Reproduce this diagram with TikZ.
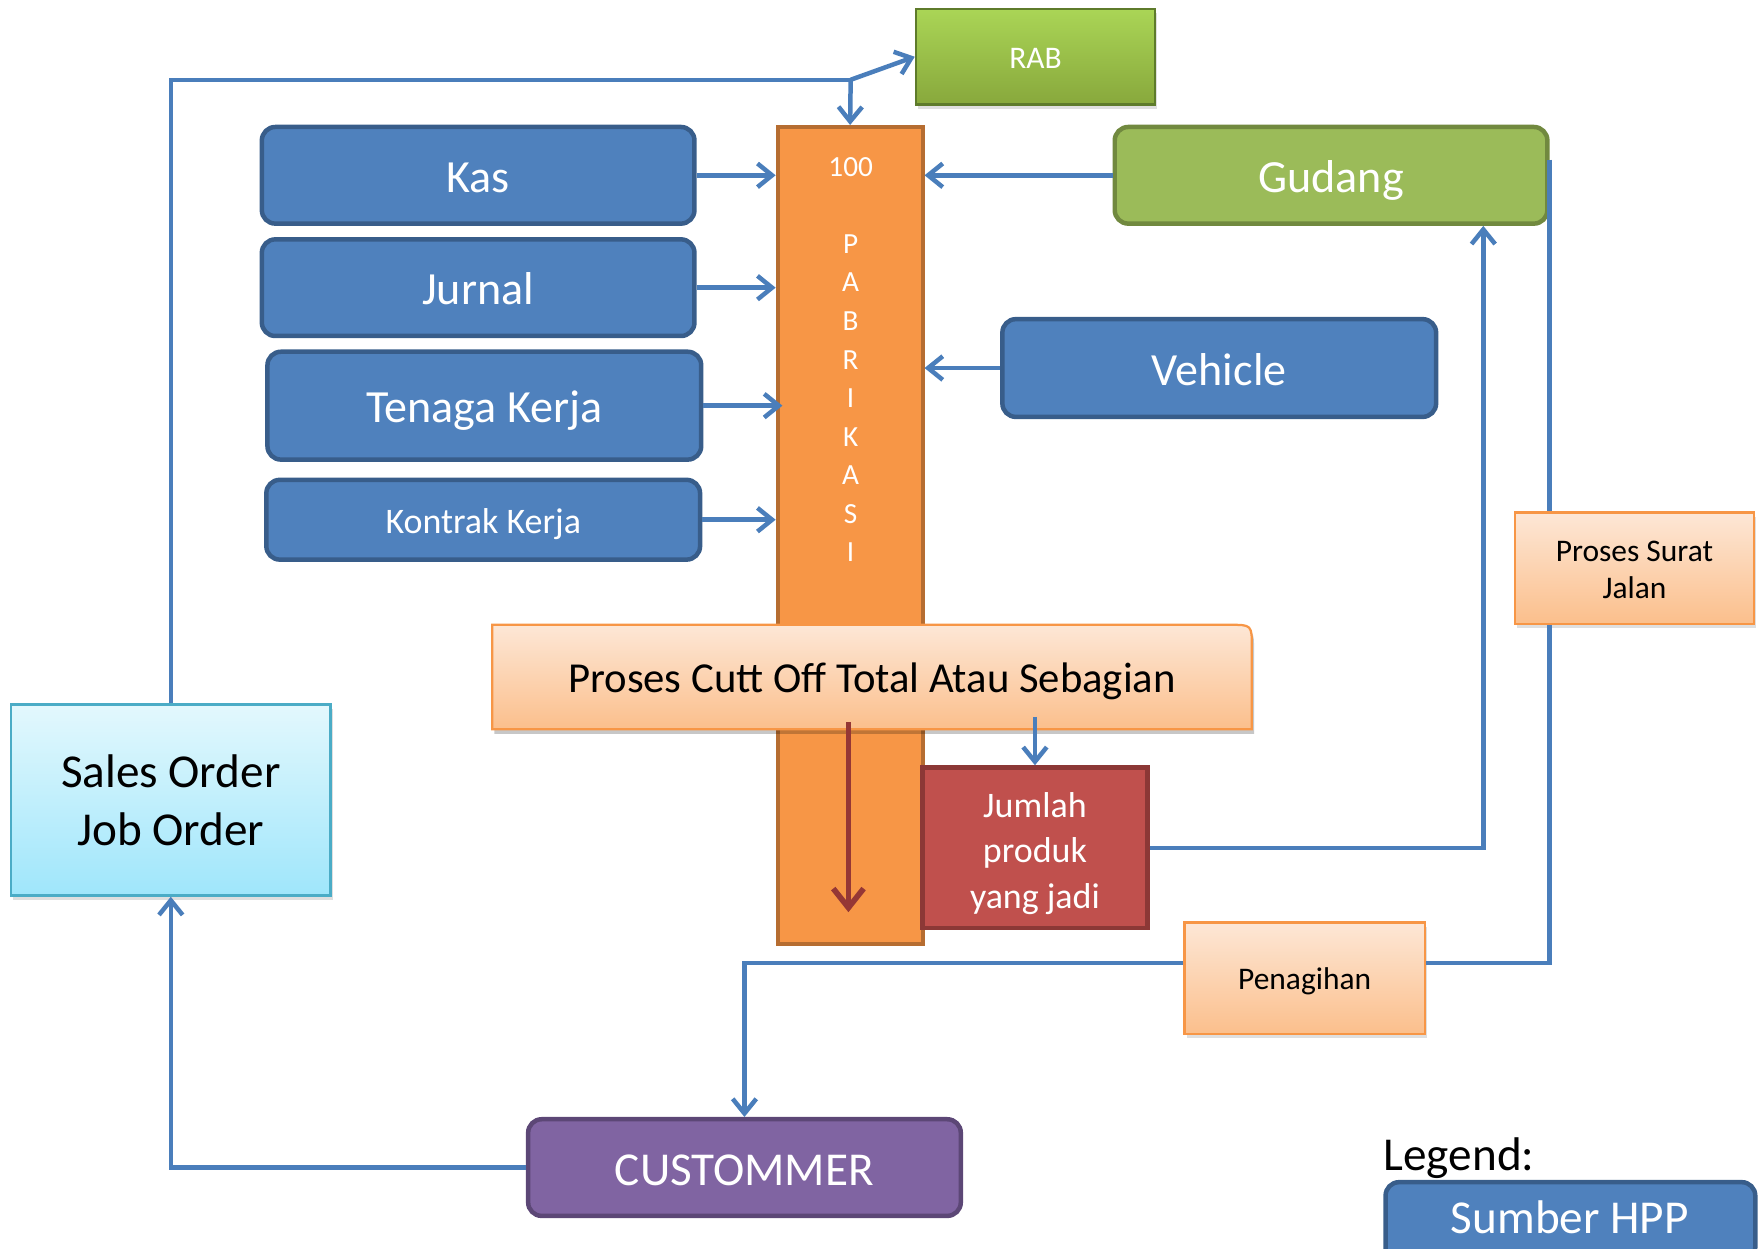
\documentclass[tikz,border=0pt]{standalone}
\usepackage{fontspec}
\setmainfont{Carlito}
\usetikzlibrary{arrows.meta,shadows,calc}
\definecolor{blueF}{HTML}{4F81BD}
\definecolor{blueD}{HTML}{385D8A}
\definecolor{lineB}{HTML}{4A7EBB}
\definecolor{orF}{HTML}{F79646}
\definecolor{orD}{HTML}{B66D31}
\definecolor{grF}{HTML}{9BBB59}
\definecolor{grD}{HTML}{71893F}
\definecolor{rabT}{HTML}{AAD556}
\definecolor{rabB}{HTML}{88A83C}
\definecolor{rabD}{HTML}{5E7B2B}
\definecolor{redF}{HTML}{C0504D}
\definecolor{redD}{HTML}{8C3836}
\definecolor{puF}{HTML}{8064A2}
\definecolor{puD}{HTML}{5C4776}
\definecolor{peT}{HTML}{FDE7D6}
\definecolor{peB}{HTML}{FBBF8C}
\definecolor{cyT}{HTML}{E3F8FD}
\definecolor{cyB}{HTML}{9FE6FB}
\definecolor{cyD}{HTML}{4BACC6}
\definecolor{darkR}{HTML}{953735}
\newcommand\fsBig{\fontsize{41}{49}\selectfont}
\newcommand\fsMid{\fontsize{32}{40.5}\selectfont}
\newcommand\fsCut{\fontsize{38}{45}\selectfont}
\newcommand\fsSm{\fontsize{28}{33}\selectfont}
\newcommand\fsPab{\fontsize{26}{34.3}\selectfont}
\begin{document}
\begin{tikzpicture}[x=1pt,y=-1pt,
  txBig/.style={text height=39.4pt, text depth=9pt},
  txHuge/.style={text height=40.3pt, text depth=9.2pt},
  txMid/.style={text height=30.7pt, text depth=7pt},
  txCut/.style={text height=36.5pt, text depth=8.4pt},
  txSm/.style={text height=26.9pt, text depth=6.2pt},
  bluebox/.style={draw=blueD, fill=blueF, line width=4pt, rounded corners=12pt, text=white, font=\fsBig, inner sep=0pt},
  greenbox/.style={draw=grD, fill=grF, line width=4pt, rounded corners=12pt, text=white, font=\fsBig, inner sep=0pt},
  purplebox/.style={draw=puD, fill=puF, line width=4pt, rounded corners=12pt, text=white, font=\fsBig, inner sep=0pt},
  peachbox/.style={draw=orF, line width=2pt, top color=peT, bottom color=peB, text=black, font=\fsSm, align=center, inner sep=0pt,
     drop shadow={shadow xshift=2pt, shadow yshift=-4pt, opacity=0.25}},
  conn/.style={draw=lineB, line width=4pt},
  arr/.style={-{Straight Barb[length=13pt,width=21pt]}},
  redarr/.style={draw=darkR, line width=5pt, -{Straight Barb[length=17pt,width=27pt]}}
]
\useasboundingbox (0,0) rectangle (1568,1110.6);
\clip (0,0) rectangle (1568,1110.6);

% main boxes
\node[bluebox, txBig, minimum width=385, minimum height=86] (kas) at (425.5,156) {Kas};
\node[bluebox, txBig, minimum width=385, minimum height=86] (jur) at (425.5,256) {Jurnal};
\node[bluebox, txBig, minimum width=386, minimum height=96] (ten) at (431,361) {Tenaga Kerja};
\node[bluebox, txMid, minimum width=386, minimum height=71, font=\fsMid] (kon) at (430,462.5) {Kontrak Kerja};
\node[draw=orD, fill=orF, line width=3.5pt, minimum width=129, minimum height=727, inner sep=0pt] (pab) at (756.5,476.5) {};
\node[text=white, font=\fsPab, align=center, anchor=north] (pabt) at (757,136.5) {100\\[34.3pt]P\\A\\B\\R\\I\\K\\A\\S\\I};
\node[greenbox, txBig, minimum width=385, minimum height=86] (gud) at (1184.5,156) {Gudang};
\node[bluebox, txBig, minimum width=386, minimum height=87] (veh) at (1085,327.5) {Vehicle};
\node[draw=rabD, line width=2pt, top color=rabT, bottom color=rabB, minimum width=213, minimum height=85, inner sep=0pt,
      text=white, font=\fsSm, txSm, drop shadow={shadow xshift=2pt, shadow yshift=-4pt, opacity=0.25}] (rab) at (921.5,50.5) {RAB};

% cut off box with one rounded corner
\fill[black, opacity=0.22] (440,560) -- (1096,560) .. controls (1116,560) .. (1116,580) -- (1116,653) -- (440,653) -- cycle;
\path[draw=orF, line width=2pt, top color=peT, bottom color=peB]
  (438,556) -- (1094,556) .. controls (1114,556) .. (1114,576) -- (1114,649) -- (438,649) -- cycle;
\node[minimum width=676, minimum height=93, inner sep=0pt, font=\fsCut, txCut] (cut) at (776,602.5) {Proses Cutt Off Total Atau Sebagian};

\node[draw=redD, fill=redF, line width=4pt, minimum width=200, minimum height=143, inner sep=0pt] (jum) at (921,754.5) {};
\node[text=white, font=\fsMid, align=center, inner sep=0pt] (jumt) at ($(jum.center)+(0,5)$) {Jumlah\\produk\\yang jadi};

\node[draw=cyD, line width=2pt, top color=cyT, bottom color=cyB, minimum width=284, minimum height=170, inner sep=0pt,
      font=\fontsize{42}{52}\selectfont, align=center, drop shadow={shadow xshift=2pt, shadow yshift=-4pt, opacity=0.25}] (sal) at (152,712) {Sales Order\\Job Order};
\node[peachbox, minimum width=213, minimum height=99] (sur) at (1454.5,505.5) {};
\node[font=\fsSm, align=center, inner sep=0pt] (surt) at ($(sur.center)+(0,2)$) {Proses Surat\\Jalan};
\node[peachbox, txSm, minimum width=214, minimum height=99] (pen) at (1161,870.5) {Penagihan};
\node[purplebox, txHuge, minimum width=385, minimum height=86, font=\fontsize{42}{50}\selectfont] (cus) at (662.5,1039) {CUSTOMMER};

% legend
\node[font=\fontsize{42}{50}\selectfont, anchor=west, inner sep=0pt] (leg) at (1231,1031) {Legend:};
\node[bluebox, minimum width=329, minimum height=70] (hpp) at (1397.5,1087) {};
\node[text=white, font=\fontsize{42}{50}\selectfont, inner sep=0pt] (hppt) at (1397,1083) {Sumber HPP};

% connectors
\coordinate (jn) at (757,71);
\draw[conn] (sal.north) |- (jn);
\draw[conn, arr] (jn) -- (pab.north);
\draw[conn, arr] (jn) -- (rab.west);
\draw[conn, arr] (cus.west) -| (sal.south);
\draw[conn, arr] (kas.east) -- (kas.east -| pab.west);
\draw[conn, arr] (jur.east) -- (jur.east -| pab.west);
\draw[conn, arr] (ten.east) -- ($(ten.east -| pab.west)+(6,0)$);
\draw[conn, arr] (kon.east) -- (kon.east -| pab.west);
\draw[conn, arr] (gud.west) -- (gud.west -| pab.east);
\draw[conn, arr] (veh.west) -- (veh.west -| pab.east);
\draw[conn, arr] ($(jum.north)+(0,-43)$) -- (jum.north);
\draw[redarr] ($(pab.south)+(-1.5,-199)$) -- ($(pab.south)+(-1.5,-30)$);
\draw[conn, arr] (jum.east) -| ([xshift=135.5]gud.south);
\draw[conn] ([yshift=14]gud.east) -- (gud.east |- sur.north);
\draw[conn] (gud.east |- sur.south) |- ([yshift=13.5]pen.east);
\draw[conn, arr] ([yshift=13.5]pen.west) -| (cus.north);
\end{tikzpicture}
\end{document}
